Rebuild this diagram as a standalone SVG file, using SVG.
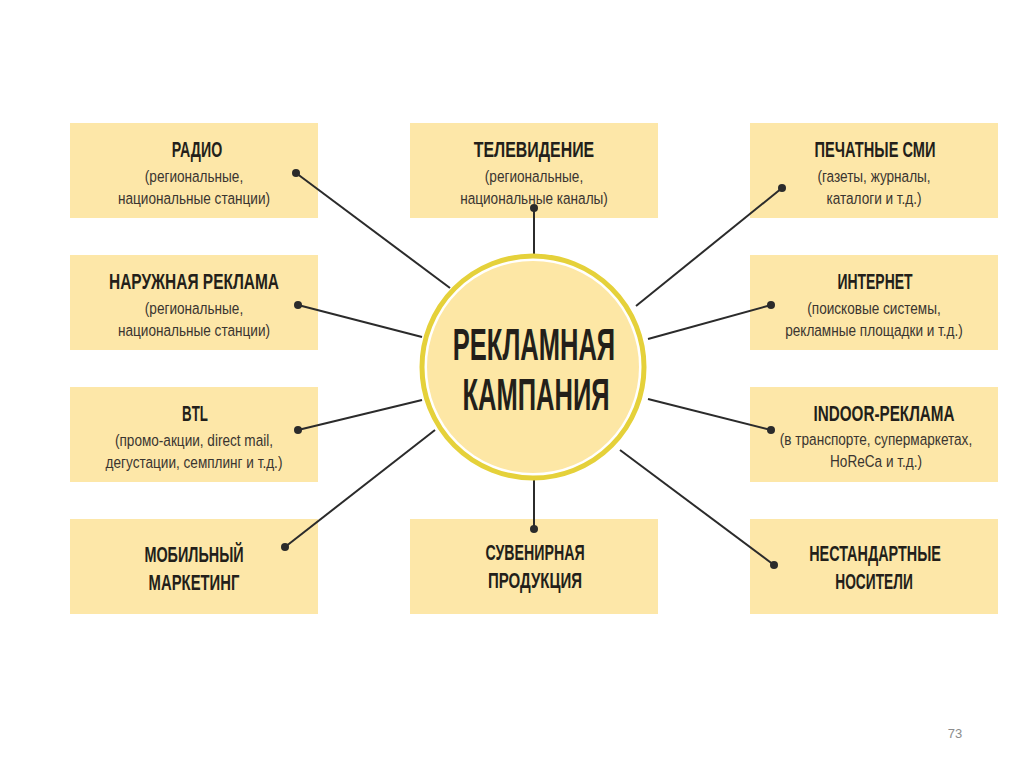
<svg xmlns="http://www.w3.org/2000/svg" width="1024" height="767" viewBox="0 0 1024 767">
<style>
.box{fill:#fde7a8}
.t{font-family:"Liberation Sans",Arial,sans-serif;font-weight:bold;font-size:21.5px;fill:#231f1a;text-anchor:middle}
.s{font-family:"Liberation Sans",Arial,sans-serif;font-size:17px;fill:#3a3530;text-anchor:middle}
.c{font-family:"Liberation Sans",Arial,sans-serif;font-weight:bold;font-size:44px;fill:#231f1a;text-anchor:middle}
.ln{stroke:#2b2b2b;stroke-width:2;fill:none}
.dot{fill:#2b2b2b}
.pg{font-family:"Liberation Sans",Arial,sans-serif;font-size:13px;fill:#8c8c8c;text-anchor:middle}
</style>
<rect width="1024" height="767" fill="#ffffff"/>
<g id="radio">
<rect class="box" x="70" y="123" width="248" height="95"/>
<text class="t" transform="matrix(0.66 0 0 1 197 157)">РАДИО</text>
<text class="s" transform="matrix(0.8 0 0 1 194 182)">(региональные,</text>
<text class="s" transform="matrix(0.8 0 0 1 194 204)">национальные станции)</text>
</g>
<g id="naruzh">
<rect class="box" x="70" y="255" width="248" height="95"/>
<text class="t" transform="matrix(0.72 0 0 1 194 289)">НАРУЖНАЯ РЕКЛАМА</text>
<text class="s" transform="matrix(0.8 0 0 1 194 314)">(региональные,</text>
<text class="s" transform="matrix(0.8 0 0 1 194 336)">национальные станции)</text>
</g>
<g id="btl">
<rect class="box" x="70" y="387" width="248" height="95"/>
<text class="t" transform="matrix(0.62 0 0 1 195 421)">BTL</text>
<text class="s" transform="matrix(0.8 0 0 1 194 446)">(промо-акции, direct mail,</text>
<text class="s" transform="matrix(0.8 0 0 1 194 468)">дегустации, семплинг и т.д.)</text>
</g>
<g id="mobile">
<rect class="box" x="70" y="519" width="248" height="95"/>
<text class="t" transform="matrix(0.67 0 0 1 194 562)">МОБИЛЬНЫЙ</text>
<text class="t" transform="matrix(0.69 0 0 1 194 590)">МАРКЕТИНГ</text>
</g>
<g id="tv">
<rect class="box" x="410" y="123" width="248" height="95"/>
<text class="t" transform="matrix(0.74 0 0 1 534 157)">ТЕЛЕВИДЕНИЕ</text>
<text class="s" transform="matrix(0.8 0 0 1 534 182)">(региональные,</text>
<text class="s" transform="matrix(0.8 0 0 1 534 204)">национальные каналы)</text>
</g>
<g id="souvenir">
<rect class="box" x="410" y="519" width="248" height="95"/>
<text class="t" transform="matrix(0.66 0 0 1 535 560)">СУВЕНИРНАЯ</text>
<text class="t" transform="matrix(0.7 0 0 1 535 588)">ПРОДУКЦИЯ</text>
</g>
<g id="print">
<rect class="box" x="750" y="123" width="248" height="95"/>
<text class="t" transform="matrix(0.68 0 0 1 875 157)">ПЕЧАТНЫЕ СМИ</text>
<text class="s" transform="matrix(0.8 0 0 1 874 182)">(газеты, журналы,</text>
<text class="s" transform="matrix(0.8 0 0 1 874 204)">каталоги и т.д.)</text>
</g>
<g id="internet">
<rect class="box" x="750" y="255" width="248" height="95"/>
<text class="t" transform="matrix(0.65 0 0 1 875 289)">ИНТЕРНЕТ</text>
<text class="s" transform="matrix(0.8 0 0 1 874 314)">(поисковые системы,</text>
<text class="s" transform="matrix(0.8 0 0 1 874 336)">рекламные площадки и т.д.)</text>
</g>
<g id="indoor">
<rect class="box" x="750" y="387" width="248" height="95"/>
<text class="t" transform="matrix(0.71 0 0 1 884 421)">INDOOR-РЕКЛАМА</text>
<text class="s" transform="matrix(0.8 0 0 1 876 445)">(в транспорте, супермаркетах,</text>
<text class="s" transform="matrix(0.8 0 0 1 876 467)">HoReCa и т.д.)</text>
</g>
<g id="nonstandard">
<rect class="box" x="750" y="519" width="248" height="95"/>
<text class="t" transform="matrix(0.67 0 0 1 875 561)">НЕСТАНДАРТНЫЕ</text>
<text class="t" transform="matrix(0.64 0 0 1 874 589)">НОСИТЕЛИ</text>
</g>
<g id="connectors">
<line class="ln" x1="296" y1="173" x2="450" y2="288"/>
<line class="ln" x1="298" y1="305" x2="422" y2="337"/>
<line class="ln" x1="298" y1="430" x2="422" y2="400"/>
<line class="ln" x1="285" y1="547" x2="435" y2="430"/>
<line class="ln" x1="534" y1="208" x2="534" y2="255"/>
<line class="ln" x1="534" y1="529" x2="534" y2="480"/>
<line class="ln" x1="782" y1="188" x2="636" y2="306"/>
<line class="ln" x1="771" y1="305" x2="648" y2="339"/>
<line class="ln" x1="771" y1="430" x2="648" y2="399"/>
<line class="ln" x1="774" y1="565" x2="620" y2="450"/>
<circle class="dot" cx="296" cy="173" r="4"/>
<circle class="dot" cx="298" cy="305" r="4"/>
<circle class="dot" cx="298" cy="430" r="4"/>
<circle class="dot" cx="285" cy="547" r="4"/>
<circle class="dot" cx="534" cy="208" r="4"/>
<circle class="dot" cx="534" cy="529" r="4"/>
<circle class="dot" cx="782" cy="188" r="4"/>
<circle class="dot" cx="771" cy="305" r="4"/>
<circle class="dot" cx="771" cy="430" r="4"/>
<circle class="dot" cx="774" cy="565" r="4"/>
</g>
<g id="center">
<circle cx="533" cy="367" r="111" fill="#ffffff" stroke="#e5d13a" stroke-width="5"/>
<circle cx="533" cy="367" r="106" fill="#fde7a5"/>
<text class="c" transform="matrix(0.58 0 0 1 534 360)">РЕКЛАМНАЯ</text>
<text class="c" transform="matrix(0.58 0 0 1 536 410)">КАМПАНИЯ</text>
</g>
<text class="pg" x="955" y="738">73</text>
</svg>
